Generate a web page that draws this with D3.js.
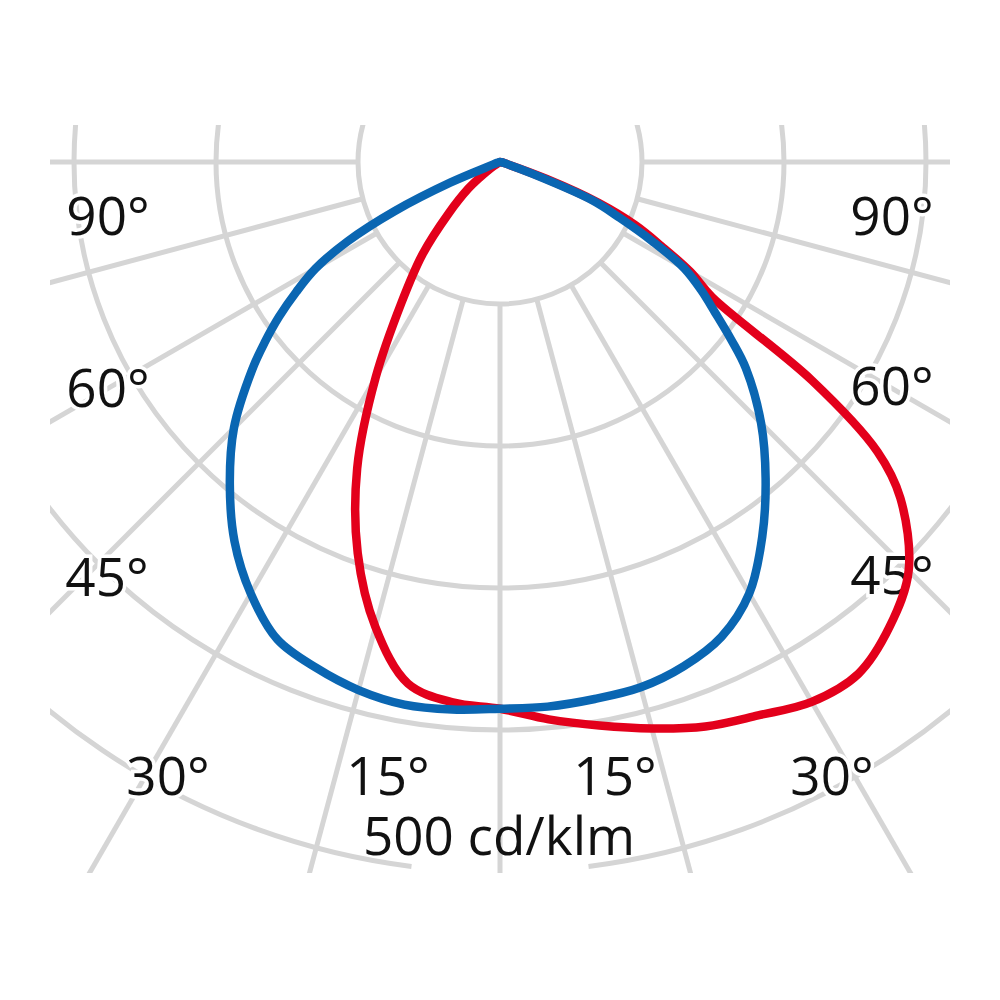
<!DOCTYPE html>
<html>
<head>
<meta charset="utf-8">
<script src="https://cdn.jsdelivr.net/npm/d3@7"></script>
<style>
  html, body { margin: 0; padding: 0; background: #fff; }
  svg { display: block; }
</style>
</head>
<body>
<script>
// polar light distribution curve, values in cd/klm

var angles = [-90, -85, -80, -75, -70, -67.5, -65, -62.5, -60, -57.5, -55, -52.5, -50, -45, -40, -35, -30, -25, -20, -15, -10, -5,
  0, 5, 10, 15, 20, 25, 30, 35, 40, 45, 50, 52.5, 55, 57.5, 60, 62.5, 65, 67.5, 70, 75, 80, 85, 90];

// blue plane
var planeA = [0, 0, 1, 2, 5, 38, 82, 121, 150, 170, 190, 209, 228, 265, 296, 326, 351, 371, 379, 385, 388, 387,
  385, 385, 384, 383, 378, 369, 351, 322, 291, 260, 226, 205, 185, 168, 150, 121, 93, 70, 25, 3, 1, 0, 0];

// red plane
var planeB = [0, 0, 0, 0, 0, 0, 0, 1, 2, 5, 10, 18, 29, 51, 85, 121, 175, 238, 293, 339, 373, 382,
  385, 394, 403, 413, 423, 430, 439, 440, 427, 407, 368, 335, 268, 177, 155, 128, 105, 75, 35, 3, 1, 0, 0];

var rings = [100, 200, 300, 400, 500];
var spokes = [-90, -75, -60, -45, -30, -15, 0, 15, 30, 45, 60, 75, 90];
var angleLabels = ['90°', '60°', '45°', '30°', '15°'];
var scaleLabel = '500 cd/klm';

var width = 1000,
    height = 1000,
    cx = 500,
    cy = 162;

var r = d3.scaleLinear().domain([0, 500]).range([0, 710]);
// 0° points down, positive to the right
var a = d3.scaleLinear().domain([-90, 90]).range([1.5 * Math.PI, 0.5 * Math.PI]);

var svg = d3.select('body')
  .append('svg')
  .attr('width', width)
  .attr('height', height);

svg.append('clipPath')
  .attr('id', 'frame')
  .append('rect')
  .attr('x', 50)
  .attr('y', 125)
  .attr('width', 900)
  .attr('height', 748);

var grid = svg.append('g')
  .attr('clip-path', 'url(#frame)')
  .append('g')
  .attr('transform', 'translate(' + cx + ',' + cy + ')')
  .attr('fill', 'none')
  .attr('stroke', '#d5d5d5')
  .attr('stroke-width', 5);

// rings (outer one leaves room for the scale label)
grid.selectAll('path.ring')
  .data(rings)
  .enter().append('path')
  .attr('class', 'ring')
  .attr('d', function(d, i) {
    var p = d3.path(),
        gap = i === rings.length - 1 ? 0.125 : 0;
    p.arc(0, 0, r(d), Math.PI / 2 + gap, Math.PI * 2.5 - gap);
    return p.toString();
  });

grid.selectAll('line.spoke')
  .data(spokes)
  .enter().append('line')
  .attr('class', 'spoke')
  .attr('x1', function(d) { return r(100) * Math.sin(a(d)); })
  .attr('y1', function(d) { return -r(100) * Math.cos(a(d)); })
  .attr('x2', function(d) { return r(1000) * Math.sin(a(d)); })
  .attr('y2', function(d) { return -r(1000) * Math.cos(a(d)); });

var labelPos = [
  [108, 235], [108, 407], [107, 596], [168, 795], [388, 795],
  [892, 235], [892, 405], [892, 594], [832, 795], [615, 795]
];

svg.append('g')
  .selectAll('text')
  .data(angleLabels.concat(angleLabels))
  .enter().append('text')
  .attr('x', function(d, i) { return labelPos[i][0]; })
  .attr('y', function(d, i) { return labelPos[i][1]; })
  .attr('text-anchor', 'middle')
  .attr('font-family', '"Open Sans", sans-serif')
  .attr('font-size', 53)
  .attr('fill', '#111')
  .attr('stroke', '#fff')
  .attr('stroke-width', 7)
  .attr('paint-order', 'stroke')
  .text(function(d) { return d; });

svg.append('text')
  .attr('x', 499)
  .attr('y', 855)
  .attr('text-anchor', 'middle')
  .attr('font-family', '"Open Sans", sans-serif')
  .attr('font-size', 53)
  .attr('fill', '#111')
  .text(scaleLabel);

var line = d3.lineRadial()
  .angle(function(d) { return a(d[0]); })
  .radius(function(d) { return r(d[1]); })
  .curve(d3.curveCatmullRom.alpha(0.5));

var curves = svg.append('g')
  .attr('transform', 'translate(' + cx + ',' + cy + ')')
  .attr('fill', 'none')
  .attr('stroke-width', 8.5)
  .attr('stroke-linejoin', 'round')
  .attr('stroke-linecap', 'round');

curves.append('path')
  .attr('d', line(d3.zip(angles, planeB)))
  .attr('stroke', '#e3001b');

curves.append('path')
  .attr('d', line(d3.zip(angles, planeA)))
  .attr('stroke', '#0a66b2');
</script>
</body>
</html>
